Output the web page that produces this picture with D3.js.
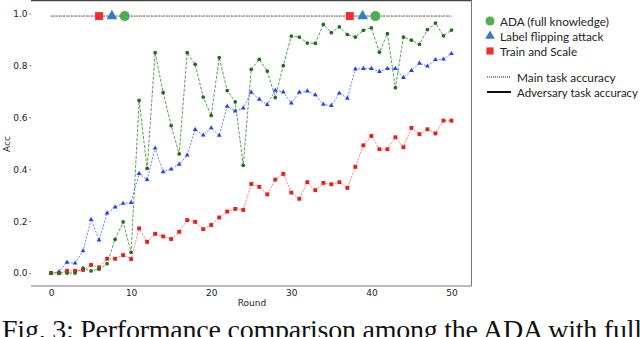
<!DOCTYPE html>
<html>
<head>
<meta charset="utf-8">
<script src="https://cdnjs.cloudflare.com/ajax/libs/d3/7.8.5/d3.min.js"></script>
<style>
  body { margin: 0; background: #fff; }
  svg { display: block; }
</style>
</head>
<body>
<svg id="chart" width="640" height="337"></svg>
<script>
var rounds = d3.range(51);

// adversary task accuracy per round
var adaAcc = [0, 0, 0, 0, 0.019, 0.008, 0.015, 0.036, 0.13, 0.197,
	0.08, 0.665, 0.403, 0.849, 0.695, 0.568, 0.459, 0.849, 0.804, 0.678,
	0.607, 0.83, 0.703, 0.659, 0.415, 0.785, 0.823, 0.778, 0.676, 0.799,
	0.913, 0.909, 0.886, 0.885, 0.958, 0.926, 0.948, 0.919, 0.909, 0.935,
	0.945, 0.851, 0.922, 0.714, 0.909, 0.897, 0.881, 0.938, 0.963, 0.914, 0.936];
var flipAcc = [0, 0.005, 0.041, 0.038, 0.085, 0.206, 0.127, 0.231, 0.254, 0.268,
	0.271, 0.383, 0.36, 0.481, 0.39, 0.4, 0.419, 0.454, 0.553, 0.531,
	0.559, 0.53, 0.642, 0.624, 0.635, 0.696, 0.669, 0.649, 0.704, 0.697,
	0.655, 0.696, 0.701, 0.686, 0.65, 0.645, 0.693, 0.673, 0.786, 0.788,
	0.788, 0.776, 0.788, 0.788, 0.753, 0.78, 0.808, 0.797, 0.822, 0.824, 0.845];
var scaleAcc = [0, 0, 0.008, 0.008, 0.012, 0.031, 0.022, 0.055, 0.055, 0.069,
	0.054, 0.172, 0.12, 0.151, 0.141, 0.131, 0.159, 0.204, 0.197, 0.169,
	0.185, 0.214, 0.237, 0.247, 0.243, 0.343, 0.332, 0.303, 0.36, 0.382,
	0.31, 0.286, 0.35, 0.319, 0.347, 0.342, 0.35, 0.328, 0.409, 0.492,
	0.528, 0.477, 0.477, 0.523, 0.485, 0.559, 0.535, 0.554, 0.538, 0.587, 0.587];

// main task accuracy (flat), with the big marker positions on it
var mainRounds = [0, 50];
var mainAcc = [0.99, 0.99];
var mainMarkRounds = { scale: [6, 37.3], flip: [7.6, 38.9], ada: [9.2, 40.5] };

var xTicks = [0, 10, 20, 30, 40, 50];
var yTicks = [0, 0.2, 0.4, 0.6, 0.8, 1.0];
var seriesNames = ["ADA (full knowledge)", "Label flipping attack", "Train and Scale"];
var styleNames = ["Main task accuracy", "Adversary task accuracy"];

var svg = d3.select("#chart");
var pLeft = 31, pRight = 471.5, pTop = 0.5, pBottom = 286;

var x = d3.scaleLinear().domain([-2.5, 52.5]).range([pLeft, pRight]);
var y = d3.scaleLinear().domain([-0.05, 1.05]).range([pBottom, pTop]);

// frame (no left spine)
svg.append("path")
	.attr("d", "M" + pLeft + "," + pTop + "H" + pRight + "V" + pBottom + "H" + pLeft)
	.attr("fill", "none").attr("stroke", "#777").attr("stroke-width", 1);
svg.append("line").attr("x1", pLeft).attr("x2", pRight).attr("y1", pTop).attr("y2", pTop)
	.attr("stroke", "#444").attr("stroke-width", 1.5);

var xAxis = svg.append("g").attr("transform", "translate(0," + pBottom + ")")
	.call(d3.axisBottom(x).tickValues(xTicks).tickSize(0).tickPadding(4).tickFormat(d3.format("d")));
var yAxis = svg.append("g").attr("transform", "translate(" + pLeft + ",0)")
	.call(d3.axisLeft(y).tickValues(yTicks).tickSize(1.5).tickPadding(2).tickFormat(d3.format(".1f")));
[xAxis, yAxis].forEach(function(a){
	a.select(".domain").remove();
	a.selectAll("line").attr("stroke", "#555");
	a.selectAll("text").attr("font-family", "DejaVu Sans").attr("font-size", 9).attr("fill", "#222");
});

svg.append("text").attr("x", 252).attr("y", 306).attr("text-anchor", "middle")
	.attr("font-family", "DejaVu Sans").attr("font-size", 9).attr("fill", "#222").text("Round");
svg.append("text").attr("transform", "translate(10,144) rotate(-90)").attr("text-anchor", "middle")
	.attr("font-family", "DejaVu Sans").attr("font-size", 9).attr("fill", "#222").text("Acc");

var line = d3.line().x(function(d){ return x(d[0]); }).y(function(d){ return y(d[1]); });

// main task lines (blue underneath, red/green on top)
var mainColors = ["#4466ff", "#2e8b2e", "#e83a3a"];
mainColors.forEach(function(c, i){
	svg.append("path")
		.attr("d", line(mainRounds.map(function(r, i){ return [r, mainAcc[i]]; })))
		.attr("fill", "none").attr("stroke", c).attr("stroke-opacity", i ? 0.8 : 0.3)
		.attr("stroke-width", 1).attr("stroke-dasharray", i == 2 ? "1.5,2.5" : "1.5,1");
});

var series = [
	{ vals: flipAcc, color: "#2040ff", lineColor: "#5068ff", dash: "2,1.5", shape: d3.symbolTriangle, size: 10 },
	{ vals: scaleAcc, color: "#ee1c1c", lineColor: "#f66", dash: "2,1.2", shape: d3.symbolSquare, size: 15 },
	{ vals: adaAcc, color: "#236e1a", lineColor: "#3a8f30", dash: "3,1.5", shape: d3.symbolCircle, size: 11 }
];

series.forEach(function(s){
	var pts = rounds.map(function(r){ return [r, s.vals[r]]; });
	svg.append("path").attr("d", line(pts))
		.attr("fill", "none").attr("stroke", s.lineColor).attr("stroke-opacity", 0.85)
		.attr("stroke-width", 1).attr("stroke-dasharray", s.dash);
	svg.append("g").selectAll("path").data(pts).enter().append("path")
		.attr("transform", function(d){ return "translate(" + x(d[0]) + "," + y(d[1]) + ")"; })
		.attr("d", d3.symbol().type(s.shape).size(s.size))
		.attr("fill", s.color);
});

// big markers on the main task line
var bigMarks = [
	{ key: "scale", shape: d3.symbolSquare, size: 64, color: "#ee3030" },
	{ key: "flip", shape: d3.symbolTriangle, size: 50, color: "#3a78c8" },
	{ key: "ada", shape: d3.symbolCircle, size: 80, color: "#4caf50" }
];
bigMarks.forEach(function(m){
	svg.append("g").selectAll("path").data(mainMarkRounds[m.key]).enter().append("path")
		.attr("transform", function(d){ return "translate(" + x(d) + "," + y(mainAcc[0]) + ")"; })
		.attr("d", d3.symbol().type(m.shape).size(m.size))
		.attr("fill", m.color);
});

// legend
var legend = svg.append("g").attr("font-family", "Lato").attr("font-size", 11.8).attr("fill", "#222");
var legMarks = [bigMarks[2], bigMarks[1], bigMarks[0]];
seriesNames.forEach(function(name, i){
	var ly = 21 + i * 15;
	legend.append("path").attr("transform", "translate(490," + ly + ")")
		.attr("d", d3.symbol().type(legMarks[i].shape).size(legMarks[i].size * 0.8))
		.attr("fill", legMarks[i].color);
	legend.append("text").attr("x", 500).attr("y", ly + 4.5).text(name);
});
styleNames.forEach(function(name, i){
	var ly = 77 + i * 15;
	legend.append("line").attr("x1", 487).attr("x2", 511).attr("y1", ly).attr("y2", ly)
		.attr("stroke", "#111").attr("stroke-width", i ? 2 : 1)
		.attr("stroke-dasharray", i ? null : "1,1");
	var t = legend.append("text").attr("x", 517).attr("y", ly + 4.5).text(name);
	if (i) t.attr("textLength", 121).attr("lengthAdjust", "spacingAndGlyphs");
});

// caption, cut off by the bottom edge
svg.append("text").attr("x", 2).attr("y", 339)
	.attr("font-family", "Liberation Serif").attr("font-size", 28).attr("fill", "#111")
	.attr("textLength", 640).attr("lengthAdjust", "spacing")
	.text("Fig. 3: Performance comparison among the ADA with full");
</script>
</body>
</html>
